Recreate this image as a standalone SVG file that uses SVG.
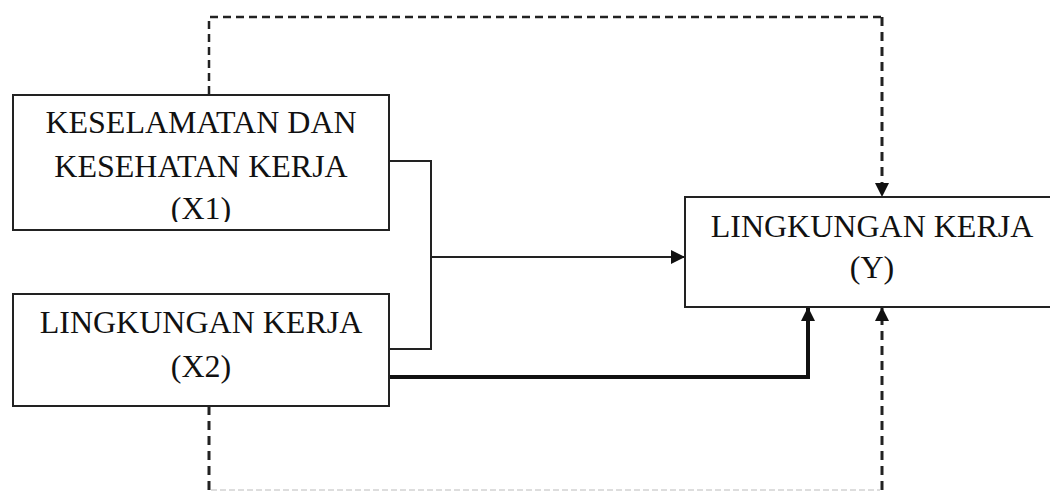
<svg xmlns="http://www.w3.org/2000/svg" width="1050" height="493" viewBox="0 0 1050 493">
<style>
.box{fill:#fff;stroke:#222;stroke-width:2}
.t{font-family:"Liberation Serif","Times New Roman",serif;font-size:32px;fill:#111;text-anchor:middle}
.solid{fill:none;stroke:#222;stroke-width:2}
.thick{fill:none;stroke:#111;stroke-width:4}
.dash{fill:none;stroke:#222;stroke-width:2.5;stroke-dasharray:8 5}
.vdash{fill:none;stroke:#222;stroke-width:3;stroke-dasharray:9 6}
.faint{fill:none;stroke:#ddd;stroke-width:2;stroke-dasharray:6 3}
</style>
<defs>
<marker id="ah" viewBox="0 0 10 10" refX="10" refY="5" markerWidth="14" markerHeight="14" markerUnits="userSpaceOnUse" orient="auto">
<path d="M0,0 L10,5 L0,10 Z" fill="#111"/>
</marker>
<clipPath id="c1"><rect x="14" y="96" width="374" height="126"/></clipPath>
</defs>
<rect width="1050" height="493" fill="#fff"/>
<g id="connectors">
<path class="dash" d="M209,94 V17 H882"/>
<path class="vdash" d="M882,17 V197" marker-end="url(#ah)"/>
<path class="vdash" d="M209,406 V490"/>
<path class="faint" d="M211,490 H880"/>
<path class="vdash" d="M882,490 V307" marker-end="url(#ah)"/>
<path class="solid" d="M389,161 H431 V349 H389"/>
<path class="solid" d="M431,257 H685" marker-end="url(#ah)"/>
<path class="thick" d="M389,377 H808 V307" marker-end="url(#ah)"/>
</g>
<g id="x1">
<rect class="box" x="13" y="95" width="376" height="135"/>
<g clip-path="url(#c1)">
<text class="t" x="201" y="133">KESELAMATAN DAN</text>
<text class="t" x="201" y="177">KESEHATAN KERJA</text>
<text class="t" x="201" y="219">(X1)</text>
</g>
</g>
<g id="x2">
<rect class="box" x="13" y="294" width="376" height="112"/>
<text class="t" x="201" y="333">LINGKUNGAN KERJA</text>
<text class="t" x="201" y="377">(X2)</text>
</g>
<g id="y">
<rect class="box" x="685" y="197" width="380" height="110"/>
<text class="t" x="872" y="237">LINGKUNGAN KERJA</text>
<text class="t" x="872" y="278">(Y)</text>
</g>
</svg>
